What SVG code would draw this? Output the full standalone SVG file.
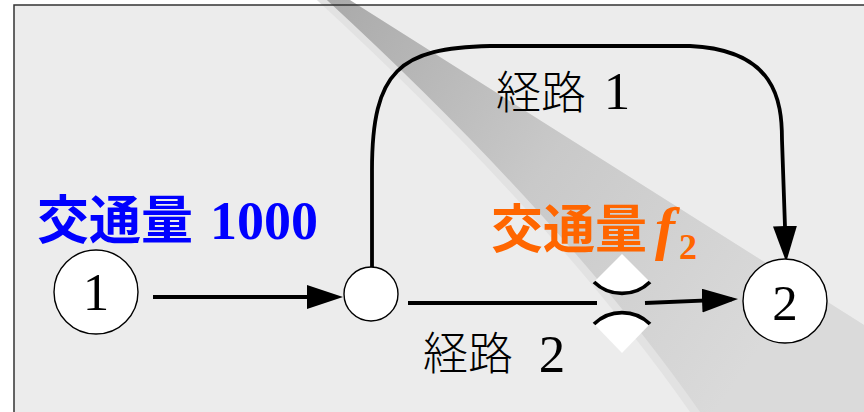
<svg xmlns="http://www.w3.org/2000/svg" width="864" height="412" viewBox="0 0 864 412">
<style>
.node{fill:#fff;stroke:#000;stroke-width:1.4}
.edge{fill:none;stroke:#000;stroke-width:3.8}
.num{font-family:"Liberation Serif","DejaVu Serif",serif;fill:#000}
.route{font-family:"Noto Sans CJK JP",sans-serif;font-weight:300;fill:#000}
.flow{font-family:"Noto Sans CJK JP",sans-serif;font-weight:700}
.flownum{font-family:"Liberation Serif",serif;font-weight:700}
</style>
<defs>
<marker id="arr" markerUnits="userSpaceOnUse" markerWidth="36" markerHeight="24" refX="30" refY="12" orient="auto">
<path d="M0,0 L36,12 L0,24 z" fill="#000"/>
</marker>
<linearGradient id="beam" gradientUnits="userSpaceOnUse" x1="320" y1="0" x2="780" y2="320">
<stop offset="0" stop-color="#a9a9a9"/>
<stop offset="0.5" stop-color="#c9c9c9"/>
<stop offset="1" stop-color="#dadada"/>
</linearGradient>
</defs>
<rect x="0" y="0" width="864" height="412" fill="#fff"/>
<rect x="14" y="5" width="860" height="420" fill="#ececec"/>
<g id="beam-light">
<path d="M306,-10 Q552,215 690,412 L864,412 L864,325 L334,-10 z" fill="#e2e2e2"/>
<path d="M316,-10 Q562,215 700,412 L864,412 L864,325 L334,-10 z" fill="url(#beam)"/>
</g>
<g id="frame" stroke="#333" stroke-width="1.5" fill="none">
<path d="M14,412 L14,5 L864,5"/>
</g>
<g id="connectors">
<path class="edge" d="M153,297 L337,297" marker-end="url(#arr)"/>
<path class="edge" d="M372,267 L372,170 C372,70 400,48 490,46 L690,46 C775,50 782,100 782,140 L786,256" marker-end="url(#arr)"/>
<path class="edge" d="M408,303 L597,303"/>
<path class="edge" d="M645,303 L732,299.3" marker-end="url(#arr)"/>
</g>
<g id="bottleneck">
<path d="M622,254 L594,282 A40,40 0 0 0 650,282 z" fill="#fff"/>
<path d="M594,282 A40,40 0 0 0 650,282" fill="none" stroke="#000" stroke-width="3.8"/>
<path d="M622,353 L594,324 A40,40 0 0 1 650,324 z" fill="#fff"/>
<path d="M594,324 A40,40 0 0 1 650,324" fill="none" stroke="#000" stroke-width="3.8"/>
</g>
<g id="node1">
<circle class="node" cx="96" cy="292" r="42"/>
<text class="num" x="96" y="310" font-size="53" text-anchor="middle">1</text>
</g>
<g id="node-mid">
<circle class="node" cx="371" cy="294" r="27"/>
</g>
<g id="node2">
<circle class="node" cx="785" cy="301" r="42"/>
<text class="num" x="785" y="320" font-size="51" text-anchor="middle">2</text>
</g>
<g id="labels">
<text class="route" x="496" y="109" font-size="45">経路<tspan class="num" x="617" font-size="53" text-anchor="middle">1</tspan></text>
<text class="route" x="423" y="370" font-size="45">経路<tspan class="num" x="552" y="372" font-size="53" text-anchor="middle">2</tspan></text>
<text class="flow" x="37" y="239" font-size="52" fill="#0000ff">交通量<tspan class="flownum" x="210" font-size="54">1000</tspan></text>
<text class="flow" x="491" y="248" font-size="52" fill="#ff6600">交通量<tspan class="flownum" x="655" font-style="italic" font-size="60">f</tspan><tspan class="flownum" x="679" y="259" font-size="36">2</tspan></text>
</g>
</svg>
